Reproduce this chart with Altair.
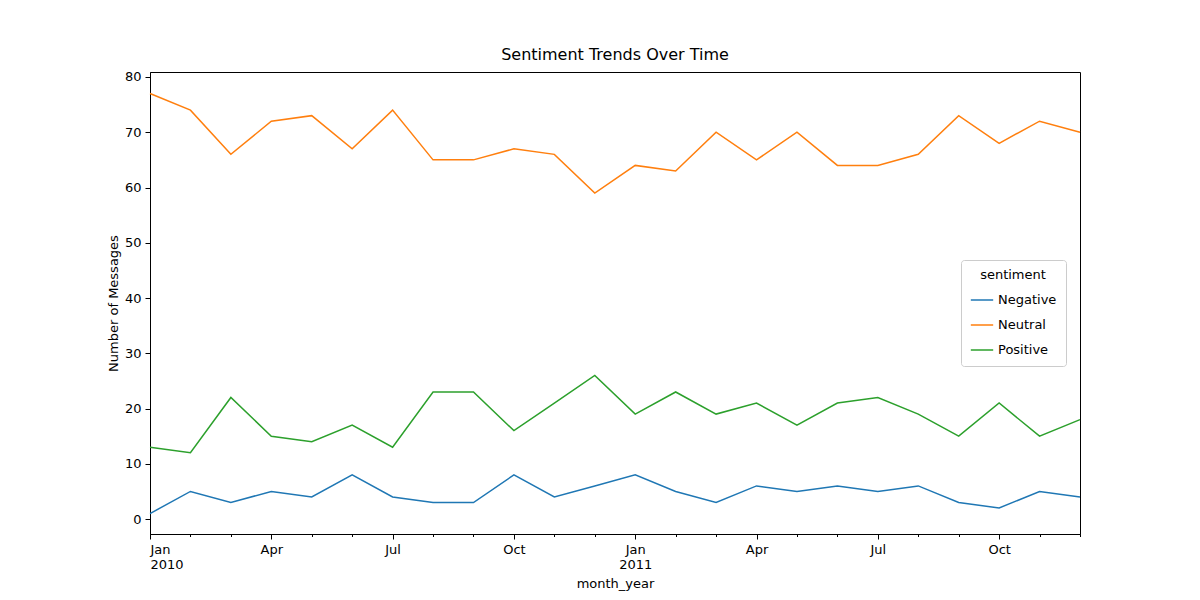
import altair as alt
import pandas as pd

months = list(range(24))
negative = [1, 5, 3, 5, 4, 8, 4, 3, 3, 8, 4, 6, 8, 5, 3, 6, 5, 6, 5, 6, 3, 2, 5, 4]
neutral = [77, 74, 66, 72, 73, 67, 74, 65, 65, 67, 66, 59, 64, 63, 70, 65, 70, 64, 64, 66, 73, 68, 72, 70]
positive = [13, 12, 22, 15, 14, 17, 13, 23, 23, 16, 21, 26, 19, 23, 19, 21, 17, 21, 22, 19, 15, 21, 15, 18]

rows = []
for name, vals in [('Negative', negative), ('Neutral', neutral), ('Positive', positive)]:
    for m, v in zip(months, vals):
        rows.append({'m': m, 'count': v, 'sentiment': name})
df = pd.DataFrame(rows)

label_expr = ("datum.value % 3 != 0 ? '' : datum.value == 0 ? ['Jan','2010'] : "
              "datum.value == 12 ? ['Jan','2011'] : ['Jan','Apr','Jul','Oct'][(datum.value % 12) / 3]")

chart = alt.Chart(df).mark_line(strokeWidth=1.5).encode(
    x=alt.X('m:Q', scale=alt.Scale(domain=[0, 23], nice=False, zero=False), title='month_year',
            axis=alt.Axis(values=months, labelExpr=label_expr, labelAngle=0, titlePadding=6,
                          tickSize={'condition': {'test': 'datum.value % 3 == 0', 'value': 5},
                                    'value': 2.5})),
    y=alt.Y('count:Q', title='Number of Messages',
            scale=alt.Scale(domain=[-2.7, 80.9], nice=False, zero=False),
            axis=alt.Axis(values=list(range(0, 81, 10)), tickSize=5)),
    color=alt.Color('sentiment:N', title='sentiment',
                    scale=alt.Scale(domain=['Negative', 'Neutral', 'Positive'],
                                    range=['#1f77b4', '#ff7f0e', '#2ca02c']),
                    legend=alt.Legend(orient='none', legendX=811, legendY=188, symbolType='stroke',
                                      symbolSize=500, symbolStrokeWidth=1.5, strokeColor='#cccccc',
                                      padding=9, cornerRadius=3, fillColor='white', rowPadding=6,
                                      titleAnchor='middle', labelFontSize=13, titleFontSize=13,
                                      titleFontWeight='normal', titlePadding=6))
).properties(
    width=930, height=462,
    title=alt.Title('Sentiment Trends Over Time', fontSize=16, fontWeight='normal', offset=8),
    autosize=alt.AutoSizeParams(type='none'),
    padding={'left': 142, 'top': 64, 'right': 112, 'bottom': 58},
).configure_axis(
    grid=False, domainColor='black', tickColor='black', labelColor='black',
    labelFont='DejaVu Sans', titleFont='DejaVu Sans', labelFontSize=13, titleFontSize=13,
    titleFontWeight='normal', labelPadding=4
).configure_legend(
    labelFont='DejaVu Sans', titleFont='DejaVu Sans'
).configure_title(font='DejaVu Sans').configure_view(stroke='black')

chart.save('out.html', embed_options={'renderer': 'svg', 'actions': False})
